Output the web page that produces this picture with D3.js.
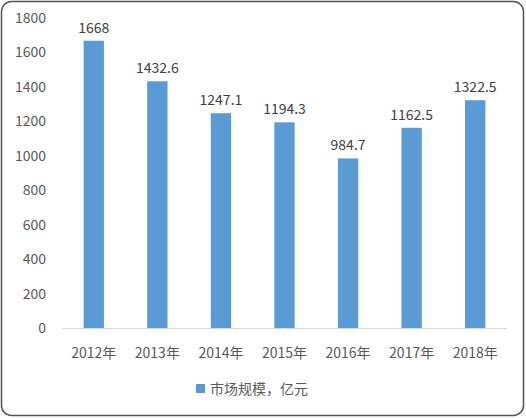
<!DOCTYPE html><html><head><meta charset="utf-8"><script src="https://cdn.jsdelivr.net/npm/d3@7"></script>
<style>body{margin:0;background:#fff}</style></head><body><svg id="c" width="526" height="418"></svg>
<script>
const categories=["2012年","2013年","2014年","2015年","2016年","2017年","2018年"];
const values=[1668,1432.6,1247.1,1194.3,984.7,1162.5,1322.5];
const labels=["1668","1432.6","1247.1","1194.3","984.7","1162.5","1322.5"];
const yTicks=[0,200,400,600,800,1000,1200,1400,1600,1800];
const seriesName="市场规模，亿元";
const svg=d3.select("#c");
const font="'Noto Sans CJK SC','Noto Sans',sans-serif";
svg.append("rect").attr("x",1.5).attr("y",1.5).attr("width",522).attr("height",414).attr("rx",10).attr("fill","#fff").attr("stroke","#555").attr("stroke-width",1.5);
const x=d3.scaleBand().domain(categories).range([62,507]).paddingInner(0.68).paddingOuter(0.34);
const y=d3.scaleLinear().domain([0,1800]).range([328,18]);
const g=svg.append("g").attr("font-family",font);
g.selectAll(".yt").data(yTicks).join("text").attr("x",46).attr("y",d=>y(d)+5).attr("text-anchor","end").attr("font-size",14).attr("fill","#595959").text(d=>d);
g.append("line").attr("x1",62).attr("x2",507).attr("y1",y(0)+0.5).attr("y2",y(0)+0.5).attr("stroke","#d9d9d9");
g.selectAll(".b").data(values).join("rect").attr("x",(d,i)=>x(categories[i])).attr("width",x.bandwidth()).attr("y",d=>y(d)).attr("height",d=>y(0)-y(d)).attr("fill","#5b9bd5");
g.selectAll(".l").data(values).join("text").attr("x",(d,i)=>x(categories[i])+x.bandwidth()/2).attr("y",d=>y(d)-8).attr("text-anchor","middle").attr("font-size",14).attr("fill","#404040").text((d,i)=>labels[i]);
g.selectAll(".xt").data(categories).join("text").attr("x",d=>x(d)+x.bandwidth()/2).attr("y",358).attr("text-anchor","middle").attr("font-size",14).attr("fill","#595959").text(d=>d);
g.append("rect").attr("x",196).attr("y",384).attr("width",9).attr("height",9).attr("fill","#5b9bd5");
g.append("text").attr("x",210).attr("y",394).attr("font-size",14).attr("fill","#595959").text(seriesName);
</script></body></html>
